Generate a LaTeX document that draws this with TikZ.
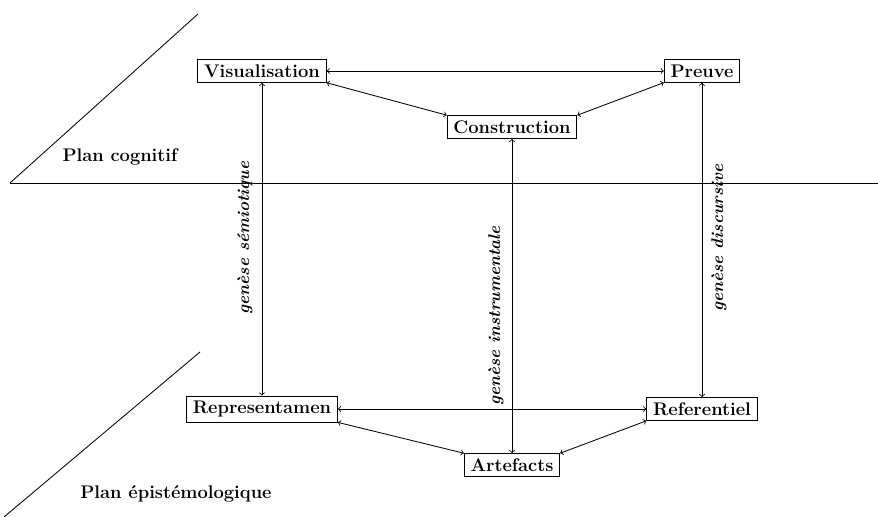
\documentclass[tikz,border=0pt]{standalone}
\usepackage{tikz}
\usetikzlibrary{arrows,positioning}
\tikzset{
    etape/.style={
        draw,
        rectangle,
        font=\fontsize{13}{15}\selectfont\bfseries,
        inner xsep=4.5pt,
        inner ysep=3.5pt,
        line width=0.6pt
    },
    genese/.style={
        rotate=90,
        font=\fontsize{12}{14}\selectfont\bfseries\itshape
    },
    plan/.style={
        font=\fontsize{13}{15}\selectfont\bfseries
    },
    lien/.style={
        <->,
        >=to,
        line width=0.6pt
    }
}

\begin{document}
\begin{tikzpicture}[x=0.025cm,y=-0.025cm]
  \useasboundingbox (0,0) rectangle (878,517);

  % les plans
  \coordinate (G) at (10,183);
  \coordinate (D) at (878,183);
  \coordinate (H1) at (198,14);
  \coordinate (B1) at (4,517);
  \coordinate (B2) at (200,352);
  \draw[line width=0.6pt] (G) -- (D);
  \draw[line width=0.6pt] (G) -- (H1);
  \draw[line width=0.6pt] (B1) -- (B2);
  \node[plan] (PC) at (120,157) {Plan cognitif};
  \node[plan] (PE) at (176,494) {Plan épistémologique};

  % les noeuds
  \node[etape] (V) at (262,71) {Visualisation};
  \node[etape] (P) at (702,71) {Preuve};
  \node[etape] (C) at (512,127) {Construction};
  \node[etape] (R) at (262,409) {Representamen};
  \node[etape] (F) at (702,409) {Referentiel};
  \node[etape] (A) at (512,465) {Artefacts};

  % les liens
  \draw[lien] (V) -- (P);
  \draw[lien] (R) -- (F);
  \draw[lien] (V.south east) -- (C.north west);
  \draw[lien] (C.north east) -- (P.south west);
  \draw[lien] (R.south east) -- (A.north west);
  \draw[lien] (A.north east) -- (F.south west);
  \draw[lien] (V) -- (R);
  \draw[lien] (C) -- (A);
  \draw[lien] (P) -- (F);

  % les genèses
  \node[genese] (GS) at (245,238) {genèse sémiotique};
  \node[genese] (GI) at (496,316) {genèse instrumentale};
  \node[genese] (GD) at (719,238) {genèse discursive};

\end{tikzpicture}
\end{document}
